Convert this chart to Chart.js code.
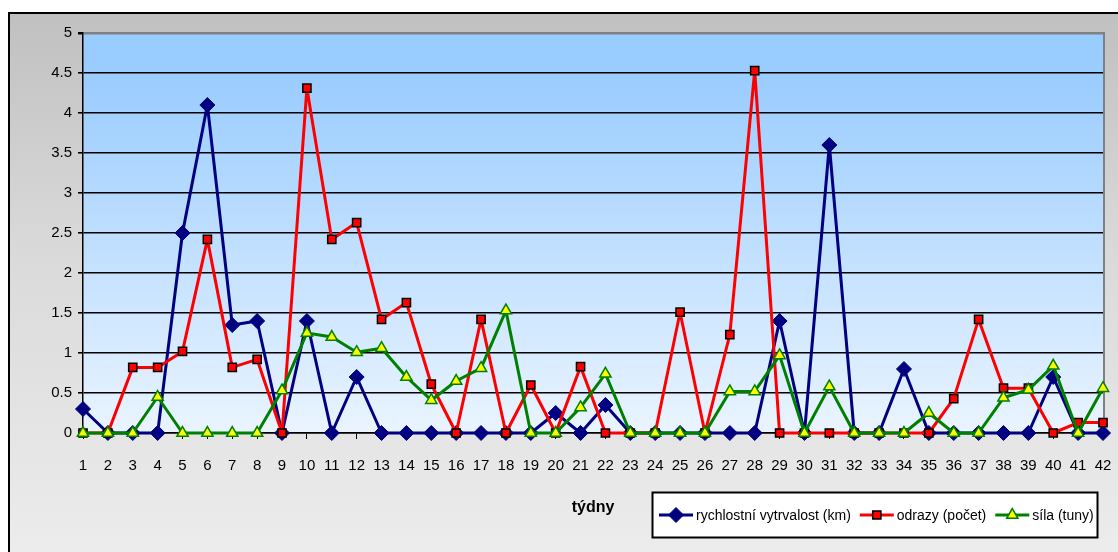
<!DOCTYPE html>
<html>
<head>
<meta charset="utf-8">
<title>Týdenní tréninkový objem</title>
<script src="https://cdn.jsdelivr.net/npm/chart.js@4.4.1/dist/chart.umd.min.js"></script>
<style>
  html, body { margin: 0; padding: 0; background: #ffffff; }
  #wrap { width: 1118px; height: 552px; position: relative; }
</style>
</head>
<body>
<div id="wrap"><canvas id="c" width="1118" height="552"></canvas></div>
<script>
// Weeks of the training season
const weeks = ['1','2','3','4','5','6','7','8','9','10','11','12','13','14','15','16','17','18','19','20','21',
               '22','23','24','25','26','27','28','29','30','31','32','33','34','35','36','37','38','39','40','41','42'];

// rychlostní vytrvalost (km)
const speedEndurance = [0.3, 0, 0, 0, 2.5, 4.1, 1.35, 1.4, 0, 1.4, 0, 0.7, 0, 0, 0, 0, 0, 0, 0, 0.25, 0,
                        0.35, 0, 0, 0, 0, 0, 0, 1.4, 0, 3.6, 0, 0, 0.8, 0, 0, 0, 0, 0, 0.7, 0, 0];

// odrazy (počet)
const jumps = [0, 0, 0.82, 0.82, 1.02, 2.42, 0.82, 0.92, 0, 4.31, 2.42, 2.63, 1.42, 1.63, 0.61, 0, 1.42, 0, 0.6, 0, 0.83,
               0, 0, 0, 1.51, 0, 1.23, 4.53, 0, 0, 0, 0, 0, 0, 0, 0.43, 1.42, 0.56, 0.56, 0, 0.13, 0.13];

// síla (tuny)
const strength = [0, 0, 0, 0.45, 0, 0, 0, 0, 0.53, 1.25, 1.2, 1.01, 1.06, 0.7, 0.41, 0.65, 0.81, 1.53, 0, 0, 0.32,
                  0.74, 0, 0, 0, 0, 0.52, 0.52, 0.97, 0, 0.58, 0, 0, 0, 0.25, 0, 0, 0.44, 0.54, 0.84, 0, 0.56];

const seriesNames = ['rychlostní vytrvalost (km)', 'odrazy (počet)', 'síla (tuny)'];
const axisTitle = 'týdny';
const yTicks = [0, 0.5, 1, 1.5, 2, 2.5, 3, 3.5, 4, 4.5, 5];

const FONT = "'Liberation Sans', Arial, sans-serif";

// Grey frame behind everything, then the blue gradient plot area
const backdrop = {
  id: 'backdrop',
  beforeDraw(chart) {
    const { ctx, width, height, chartArea: a } = chart;
    ctx.save();
    ctx.fillStyle = '#ffffff';
    ctx.fillRect(0, 0, width, height);
    const g = ctx.createLinearGradient(0, 13, 0, height);
    g.addColorStop(0, '#c0c0c0');
    g.addColorStop(0.45, '#dadada');
    g.addColorStop(1, '#ececec');
    ctx.fillStyle = g;
    ctx.fillRect(9, 13, width - 9, height - 13);
    ctx.strokeStyle = '#000000';
    ctx.lineWidth = 2;
    ctx.beginPath();
    ctx.moveTo(9, height);
    ctx.lineTo(9, 13);
    ctx.lineTo(width, 13);
    ctx.stroke();

    const pg = ctx.createLinearGradient(0, a.top, 0, a.bottom);
    pg.addColorStop(0, '#99ccff');
    pg.addColorStop(0.12, '#9bcdff');
    pg.addColorStop(1, '#eaf4ff');
    ctx.fillStyle = pg;
    ctx.fillRect(a.left, a.top, a.right - a.left, a.bottom - a.top);
    ctx.strokeStyle = '#808080';
    ctx.lineWidth = 2;
    ctx.beginPath();
    ctx.moveTo(a.right + 1, a.bottom);
    ctx.lineTo(a.right + 1, a.top - 1);
    ctx.stroke();
    ctx.restore();
  }
};

// Boxed legend with line-and-marker swatches
const boxLegend = {
  id: 'boxLegend',
  afterDraw(chart) {
    const { ctx } = chart;
    const box = { x: 652.5, y: 492.5, w: 445, h: 45 };
    ctx.save();
    ctx.fillStyle = '#ffffff';
    ctx.fillRect(box.x, box.y, box.w, box.h);
    ctx.strokeStyle = '#000000';
    ctx.lineWidth = 2;
    ctx.strokeRect(box.x, box.y, box.w, box.h);
    ctx.font = '14px ' + FONT;
    ctx.textBaseline = 'middle';
    ctx.textAlign = 'left';
    const cy = box.y + box.h / 2;
    let x = 659;
    chart.data.datasets.slice().sort((p, q) => p.legendIndex - q.legendIndex).forEach(ds => {
      ctx.strokeStyle = ds.borderColor;
      ctx.lineWidth = 3;
      ctx.beginPath();
      ctx.moveTo(x, cy);
      ctx.lineTo(x + 34, cy);
      ctx.stroke();
      ctx.fillStyle = ds.pointBackgroundColor;
      ctx.strokeStyle = ds.pointBorderColor;
      ctx.lineWidth = ds.pointBorderWidth;
      Chart.helpers.drawPoint(ctx, {
        pointStyle: ds.pointStyle, rotation: 0,
        radius: ds.pointRadius, borderWidth: ds.pointBorderWidth
      }, x + 17, cy);
      ctx.fillStyle = '#000000';
      ctx.fillText(ds.label, x + 37, cy + 1);
      x += 37 + ctx.measureText(ds.label).width + 9;
    });
    ctx.restore();
  }
};

new Chart(document.getElementById('c'), {
  type: 'line',
  data: {
    labels: weeks,
    datasets: [
      {
        label: seriesNames[0], data: speedEndurance, legendIndex: 0, order: 3,
        borderColor: '#000080', borderWidth: 3, borderJoinStyle: 'round',
        pointStyle: 'rectRot', pointRadius: 7.5, pointBorderWidth: 1,
        pointBackgroundColor: '#000080', pointBorderColor: '#000080',
        tension: 0, clip: false
      },
      {
        label: seriesNames[1], data: jumps, legendIndex: 1, order: 2,
        borderColor: '#ff0000', borderWidth: 3, borderJoinStyle: 'round',
        pointStyle: 'rect', pointRadius: 5.8, pointBorderWidth: 1.5,
        pointBackgroundColor: '#ff0000', pointBorderColor: '#000000',
        tension: 0, clip: false
      },
      {
        label: seriesNames[2], data: strength, legendIndex: 2, order: 1,
        borderColor: '#008000', borderWidth: 3, borderJoinStyle: 'round',
        pointStyle: 'triangle', pointRadius: 6.5, pointBorderWidth: 1.5,
        pointBackgroundColor: '#ffff00', pointBorderColor: '#008000',
        tension: 0, clip: false
      }
    ]
  },
  options: {
    responsive: false,
    animation: false,
    events: [],
    layout: { padding: { top: 33, right: 15, left: 0, bottom: 0 } },
    plugins: { legend: { display: false }, tooltip: { enabled: false } },
    scales: {
      x: {
        type: 'category',
        offset: false,
        afterFit(s) { s.height = 119; s.paddingLeft = 0; s.paddingRight = 0; },
        grid: {
          offset: false, drawOnChartArea: false, drawTicks: true,
          tickLength: 6, color: '#000000', lineWidth: 1
        },
        border: { display: true, color: '#000000', width: 1.5 },
        ticks: {
          color: '#000000', font: { family: FONT, size: 15 },
          padding: 18, maxRotation: 0, autoSkip: false
        },
        title: {
          display: true, text: axisTitle, color: '#000000',
          font: { family: FONT, size: 16, weight: 'bold' },
          padding: { top: 0, bottom: 35 }
        }
      },
      y: {
        min: 0, max: 5,
        afterFit(s) { s.width = 83; s.paddingTop = 0; s.paddingBottom = 0; },
        afterBuildTicks(s) { s.ticks = yTicks.map(v => ({ value: v })); },
        grid: {
          color: c => (c.tick && c.tick.value === 5 ? '#808080' : '#000000'),
          tickColor: '#000000',
          lineWidth: c => (c.tick && c.tick.value === 5 ? 2.5 : 1.6),
          tickLength: 5, drawTicks: true
        },
        border: { display: true, color: '#000000', width: 1.5 },
        ticks: {
          color: '#000000', font: { family: FONT, size: 15 }, padding: 6,
          callback: v => String(v)
        }
      }
    }
  },
  plugins: [backdrop, boxLegend]
});
</script>
</body>
</html>
